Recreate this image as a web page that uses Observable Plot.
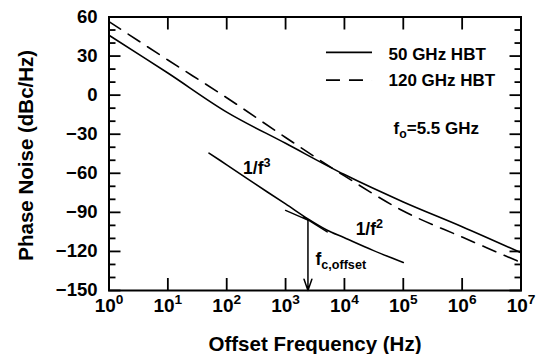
<!DOCTYPE html>
<html><head><meta charset="utf-8">
<script src="https://cdn.jsdelivr.net/npm/d3@7"></script>
<script src="https://cdn.jsdelivr.net/npm/@observablehq/plot@0.6"></script>
<style>
html,body{margin:0;padding:0;background:#fff;}
#chart{width:539px;height:354px;overflow:hidden;}
</style></head><body><div id="chart"></div>
<script>
// ---- data ----
const freqs   = [1, 10, 100, 1e3, 1e4, 1e5, 1e6, 1e7];            // Hz
const hbt50   = [46, 17, -13, -37, -61, -82, -101, -121];           // dBc/Hz (solid)
const hbt120  = [56.5, 27, -2, -32.5, -62, -89, -109, -128.5];      // dBc/Hz (dashed)
const seriesNames = ["50 GHz HBT", "120 GHz HBT"];

// illustrative 1/f^3 -> 1/f^2 sketch
const sketchF  = [50, 100, 300, 1000, 2400, 5000, 1e4, 3e4, 1e5];
const sketchDb = [-44.5, -53.5, -68, -83.5, -95, -103.5, -109.5, -119, -128.5];
const tan2F = [1000, 2400], tan2Db = [-88.5, -96];    // 1/f^2 asymptote extension
const tan3F = [2000, 5100], tan3Db = [-93.5, -105];   // 1/f^3 asymptote extension
const cornerF = 2400, cornerDb = -96;                 // f_c,offset

// axes
const xTicks = [1, 10, 100, 1e3, 1e4, 1e5, 1e6, 1e7];
const xTickLabels = ["10^{0}","10^{1}","10^{2}","10^{3}","10^{4}","10^{5}","10^{6}","10^{7}"];
const yMajor = [-150, -120, -90, -60, -30, 0, 30, 60];
const yMinor = [-140, -130, -110, -100, -80, -70, -50, -40, -20, -10, 10, 20, 40, 50];
const xDomain = [1, 1e7], yDomain = [-150, 60];
const xTitle = "Offset Frequency (Hz)";
const yTitle = "Phase Noise (dBc/Hz)";
const noteFo = "f_{o}=5.5 GHz";
const note3 = "1/f^{3}", note2 = "1/f^{2}", noteFc = "f_{c,offset}";

// annotation placement (data coordinates)
const legendPos = {x1: 4955, x2: 3e4, textX: 56100, lineY: [32.8, 11.5], textY: [30.8, 11.3]};
const notePos = {fo: [68400, -25.4], n3: [190, -56.5], n2: [15500, -103], fc: [3220, -125.8]};

const font = "'Liberation Sans', Arial, Helvetica, sans-serif";
const rows = (xs, ys) => xs.map((x, i) => ({x, y: ys[i]}));
const minus = d => (d < 0 ? "\u2212" + (-d) : String(d));
const txt = (s, p, o = {}) => Plot.text([s], {x: () => p[0], y: () => p[1], text: d => d,
  textAnchor: "start", lineAnchor: "middle", fontSize: 17.5, fontWeight: "bold", ...o});

const chart = Plot.plot({
  width: 539, height: 354,
  marginLeft: 108.5, marginRight: 18.5, marginTop: 16.5, marginBottom: 64,
  style: {fontFamily: font, fontWeight: "bold", color: "#000", background: "#fff", overflow: "visible"},
  x: {type: "log", domain: xDomain},
  y: {domain: yDomain},
  marks: [
    // ticks (inward)
    Plot.axisX(xTicks.slice(1, -1), {anchor: "bottom", tickSize: -12, tickFormat: () => "", label: null, strokeWidth: 1.8}),
    Plot.axisX(xTicks.slice(1, -1), {anchor: "top", tickSize: -12, tickFormat: () => "", label: null, strokeWidth: 1.8}),
    Plot.axisY(yMajor, {anchor: "left", tickSize: -12, tickFormat: () => "", label: null, strokeWidth: 1.8}),
    Plot.axisY(yMinor, {anchor: "left", tickSize: -7, tickFormat: () => "", label: null, strokeWidth: 1.8}),
    Plot.axisY(yMajor, {anchor: "right", tickSize: -12, tickFormat: () => "", label: null, strokeWidth: 1.8}),
    Plot.axisY(yMinor, {anchor: "right", tickSize: -7, tickFormat: () => "", label: null, strokeWidth: 1.8}),
    // tick labels
    Plot.axisX(xTicks, {anchor: "bottom", tickSize: 0, tickPadding: 8, label: null, fontSize: 19, fontWeight: "bold",
      tickFormat: d => xTickLabels[xTicks.indexOf(d)]}),
    Plot.axisY(yMajor, {anchor: "left", tickSize: 0, tickPadding: 11.5, label: null, fontSize: 18.5, fontWeight: "bold",
      tickFormat: minus}),
    Plot.frame({strokeWidth: 2}),
    // series
    Plot.line(rows(freqs, hbt50), {x: "x", y: "y", curve: "catmull-rom", strokeWidth: 1.6}),
    Plot.line(rows(freqs, hbt120), {x: "x", y: "y", curve: "catmull-rom", strokeWidth: 1.6, strokeDasharray: "14,9"}),
    // sketch
    Plot.line(rows(sketchF, sketchDb), {x: "x", y: "y", curve: "catmull-rom", strokeWidth: 1.6}),
    Plot.line(rows(tan2F, tan2Db), {x: "x", y: "y", strokeWidth: 1.4}),
    Plot.line(rows(tan3F, tan3Db), {x: "x", y: "y", strokeWidth: 1.4}),
    Plot.arrow([{x: cornerF, y1: cornerDb, y2: yDomain[0]}], {x1: "x", x2: "x", y1: "y1", y2: "y2",
      headLength: 12, headAngle: 38, strokeWidth: 1.5}),
    // legend
    Plot.ruleY([legendPos.lineY[0]], {x1: legendPos.x1, x2: legendPos.x2, strokeWidth: 1.6}),
    Plot.ruleY([legendPos.lineY[1]], {x1: legendPos.x1, x2: legendPos.x2, strokeWidth: 1.6, strokeDasharray: "14,9"}),
    txt(seriesNames[0], [legendPos.textX, legendPos.textY[0]], {fontSize: 17}),
    txt(seriesNames[1], [legendPos.textX, legendPos.textY[1]], {fontSize: 17}),
    txt(noteFo, notePos.fo, {fontSize: 17}),
    txt(note3, notePos.n3),
    txt(note2, notePos.n2),
    txt(noteFc, notePos.fc),
    // axis titles
    Plot.text([xTitle], {frameAnchor: "bottom", dy: 54, text: d => d, fontSize: 20.5, fontWeight: "bold",
      textAnchor: "middle", lineAnchor: "middle"}),
    Plot.text([yTitle], {frameAnchor: "left", dx: -83, dy: 1.5, rotate: -90, text: d => d, fontSize: 20.5, fontWeight: "bold",
      textAnchor: "middle", lineAnchor: "middle"})
  ]
});
document.getElementById("chart").appendChild(chart);

// turn ^{..} and _{..} markup into real superscript / subscript tspans
d3.select(chart).selectAll("text").each(function () {
  const t = this.textContent;
  if (!/[\^_]\{/.test(t)) return;
  const fs = parseFloat(getComputedStyle(this).fontSize) || 16;
  const el = d3.select(this);
  el.text(null);
  let cur = 0;
  t.split(/([\^_]\{[^}]*\})/).filter(s => s.length).forEach(s => {
    let target = 0, size = null, str = s;
    if (s[0] === "^") { target = -0.4 * fs; size = 0.72 * fs; str = s.slice(2, -1); }
    else if (s[0] === "_") { target = 0.28 * fs; size = 0.72 * fs; str = s.slice(2, -1); }
    const ts = el.append("tspan").text(str);
    if (size) ts.attr("font-size", size);
    const dy = target - cur;
    if (dy !== 0) ts.attr("dy", dy);
    cur = target;
  });
});
</script></body></html>
